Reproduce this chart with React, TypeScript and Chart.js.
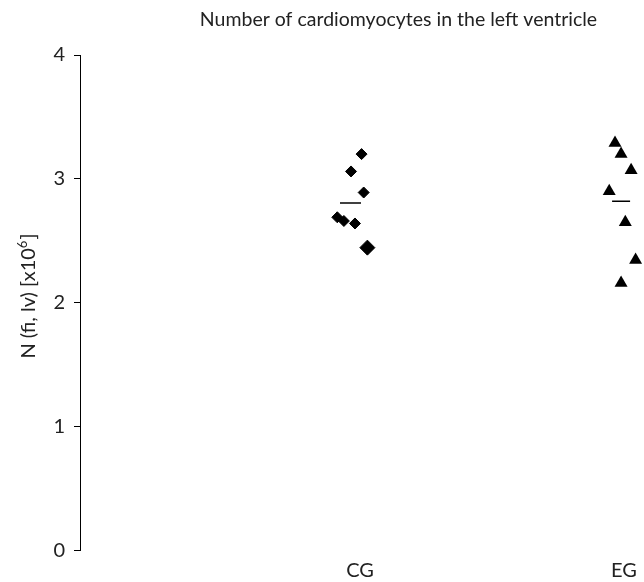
import React, { useEffect, useRef } from 'react';
import { Chart, registerables } from 'chart.js';

Chart.register(...registerables);

// ---- data ----
const categories = ['CG', 'EG'];
const categoryPositions = [1, 2];
const yTicks = [0, 1, 2, 3, 4];

// CG (diamonds): jittered x around category 1, values in 10^6
const cgX = [1.006, 0.966, 1.014, 0.914, 0.939, 0.981, 1.028];
const cgY = [3.2, 3.06, 2.89, 2.69, 2.66, 2.64, 2.445];
const cgRadius = [5.5, 5.5, 5.5, 5.5, 5.5, 5.5, 7.5];

// EG (triangles): jittered x around category 2
const egX = [1.966, 1.989, 2.027, 1.944, 2.005, 2.044, 1.989];
const egY = [3.29, 3.2, 3.07, 2.9, 2.65, 2.345, 2.16];

// group means (short horizontal bars)
const meanX = [0.964, 1.989];
const meanY = [2.805, 2.82];
const meanHalfWidth = [10.5, 9];

const titleText = 'Number of cardiomyocytes in the left ventricle';
const yLabelMain = 'N (fi, lv) [x10';
const yLabelSup = '6';
const yLabelEnd = ']';

const FONT = 'Lato, "Open Sans", sans-serif';
const TEXT = '#222';

const textPlugin = {
  id: 'customText',
  afterDraw(chart: any) {
    const { ctx, chartArea } = chart;
    const xScale = chart.scales.x;
    ctx.save();
    ctx.fillStyle = TEXT;
    ctx.font = `19.5px ${FONT}`;
    ctx.textAlign = 'center';
    ctx.textBaseline = 'alphabetic';
    ctx.fillText(titleText, chartArea.left + 318.5, 26);

    // category labels under the x axis
    ctx.font = `20px ${FONT}`;
    ctx.textBaseline = 'middle';
    categories.forEach((c, i) => {
      ctx.fillText(c, xScale.getPixelForValue(categoryPositions[i]), chartArea.bottom + 20);
    });

    // rotated y-axis label with superscript
    ctx.translate(35, 296);
    ctx.rotate(-Math.PI / 2);
    ctx.textAlign = 'left';
    ctx.textBaseline = 'alphabetic';
    ctx.font = `20px ${FONT}`;
    const w1 = ctx.measureText(yLabelMain).width;
    const w3 = ctx.measureText(yLabelEnd).width;
    ctx.font = `13px ${FONT}`;
    const w2 = ctx.measureText(yLabelSup).width;
    const total = w1 + w2 + w3 + 1;
    let x = -total / 2;
    ctx.font = `20px ${FONT}`;
    ctx.fillText(yLabelMain, x, 0);
    x += w1;
    ctx.font = `13px ${FONT}`;
    ctx.fillText(yLabelSup, x, -8);
    x += w2 + 1;
    ctx.font = `20px ${FONT}`;
    ctx.fillText(yLabelEnd, x, 0);
    ctx.restore();
  },
};

export default function App() {
  const ref = useRef<HTMLCanvasElement | null>(null);

  useEffect(() => {
    if (!ref.current) return;
    const chart = new Chart(ref.current, {
      type: 'scatter',
      data: {
        datasets: [
          {
            label: 'CG',
            data: cgX.map((x, i) => ({ x, y: cgY[i] })),
            pointStyle: 'rectRot',
            pointRadius: cgRadius,
            backgroundColor: '#000',
            borderColor: '#000',
            borderWidth: 1,
          },
          {
            label: 'EG',
            data: egX.map((x, i) => ({ x, y: egY[i] })),
            pointStyle: 'triangle',
            pointRadius: 7.5,
            backgroundColor: '#000',
            borderColor: '#000',
            borderWidth: 0,
          },
          {
            label: 'mean',
            data: meanX.map((x, i) => ({ x, y: meanY[i] })),
            pointStyle: 'line',
            pointRadius: meanHalfWidth,
            borderColor: '#000',
            borderWidth: 1.5,
          },
        ],
      },
      options: {
        animation: false,
        responsive: false,
        maintainAspectRatio: false,
        events: [],
        layout: { autoPadding: false, padding: { top: 55, left: 0, right: 0, bottom: 0 } },
        plugins: {
          legend: { display: false },
          tooltip: { enabled: false },
          title: { display: false },
        },
        scales: {
          x: {
            type: 'linear',
            min: -0.0606,
            max: 2.0758,
            grid: { display: false, drawTicks: false },
            border: { display: false },
            afterBuildTicks: (scale: any) => {
              scale.ticks = categoryPositions.map((v) => ({ value: v }));
            },
            afterFit: (scale: any) => {
              scale.height = 31.5;
              scale.paddingLeft = 0;
              scale.paddingRight = 0;
            },
            ticks: { display: false },
          },
          y: {
            type: 'linear',
            min: 0,
            max: 4,
            afterBuildTicks: (scale: any) => {
              scale.ticks = yTicks.map((v) => ({ value: v }));
            },
            afterFit: (scale: any) => {
              scale.width = 80;
            },
            grid: {
              drawOnChartArea: false,
              drawTicks: true,
              tickLength: 6,
              color: '#000',
              lineWidth: 1,
            },
            border: { display: true, color: '#000', width: 1 },
            ticks: {
              padding: 9,
              color: TEXT,
              font: { family: FONT, size: 20 },
            },
          },
        },
      },
      plugins: [textPlugin],
    });
    return () => chart.destroy();
  }, []);

  return (
    <canvas
      ref={ref}
      width={644}
      height={582}
      style={{ position: 'fixed', left: 0, top: 0, width: 644, height: 582 }}
    />
  );
}
